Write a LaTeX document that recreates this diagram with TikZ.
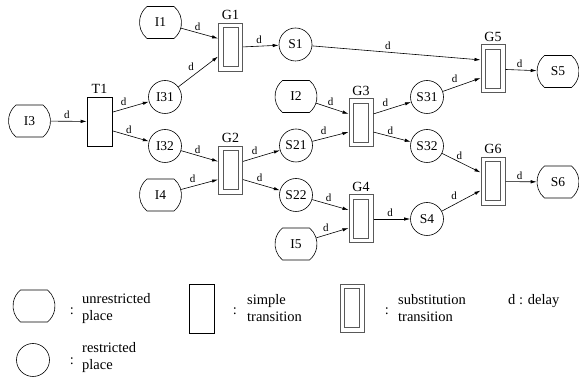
\documentclass[tikz,border=0pt]{standalone}
\usepackage{fontspec}
\setmainfont{Liberation Serif}
\usetikzlibrary{arrows.meta,shapes.misc}

\tikzset{
  uplace/.style={draw,line width=0.6pt,rounded rectangle,rounded rectangle arc length=100,
    minimum width=42pt,minimum height=32pt,inner sep=0pt,font=\fontsize{13.5}{15}\selectfont},
  rplace/.style={draw,line width=0.6pt,circle,minimum size=33pt,inner sep=0pt,font=\fontsize{13.5}{15}\selectfont},
  trans/.style={draw,line width=0.6pt,rectangle,minimum width=25pt,minimum height=49pt,inner sep=0pt},
  subst/.style={draw=black!65,line width=1pt,minimum width=24pt,minimum height=48pt,inner sep=0pt,
    path picture={\draw[black!65,line width=1pt]
      ([shift={(4.5pt,4.5pt)}]path picture bounding box.south west) rectangle
      ([shift={(-4.5pt,-4.5pt)}]path picture bounding box.north east);}},
  glab/.style={font=\fontsize{14}{16}\selectfont,inner sep=1pt,label distance=2pt},
  flow/.style={-{Latex[length=6pt,width=3.4pt]},line width=0.6pt},
  dl/.style={pos=0.45,font=\fontsize{11}{12}\selectfont,inner sep=2pt},
  keytext/.style={align=left,anchor=west,inner sep=0pt,font=\fontsize{14.5}{17}\selectfont},
  keycolon/.style={inner sep=0pt,font=\fontsize{14.5}{17}\selectfont}
}

\begin{document}
\begin{tikzpicture}[x=1pt,y=1pt]
  \useasboundingbox (0,0) rectangle (579,377);
  \foreach \n/\x/\y in {I3/29.5/256, I1/160.5/354.5, I4/160.5/182, I2/296/280.5,
                        I5/296/133, S5/558/305.5, S6/558/195}
    \node[uplace] (\n) at (\x,\y) {\n};
  \foreach \n/\x/\y in {I31/165/280, I32/165/231, S1/295.5/332.5, S21/296/231.5,
                        S22/296/182, S31/427/280, S32/427/231, S4/427/158}
    \node[rplace] (\n) at (\x,\y) {\n};
  \node[trans,label={[glab]above:T1}] (T1) at (99.5,255.5) {};
  \foreach \n/\x/\y in {G1/230.5/329.5, G2/230.5/206.5, G3/361/254,
                        G4/361/158, G5/493/308, G6/493/195.5}
    \node[subst,label={[glab]above:\n}] (\n) at (\x,\y) {};
  \foreach \a/\b/\w in {I3/T1/south, T1.36/I31/south east, T1.-36/I32/south,
      I1/G1.144/south, I31/G1.216/south east, G1/S1/south,
      I32/G2.144/south, I4/G2.216/south east, G2.36/S21/south east, G2.-36/S22/south,
      S1/G5.144/south, I2/G3.144/south, S21/G3.216/south east,
      G3.36/S31/south east, G3.-36/S32/south, S22/G4.144/south, I5/G4.216/south east,
      G4/S4/south, S31/G5.216/south east, S32/G6.144/south, S4/G6.216/south east,
      G5/S5/south, G6/S6/south}
    \draw[flow] (\a) -- node[dl,anchor=\w] {d} (\b);

  \node[uplace] (ku) at (34,71) {};
  \node[keycolon] (kuc) at (72,66) {:};
  \node[keytext] (kut) at (82,68.5) {unrestricted\\place};
  \node[trans] (kt) at (202,68.5) {};
  \node[keycolon] (ktc) at (235,66) {:};
  \node[keytext] (ktt) at (247,68.5) {simple\\transition};
  \node[subst] (ks) at (352,68.5) {};
  \node[keycolon] (ksc) at (387,66) {:};
  \node[keytext] (kst) at (398,68.5) {substitution\\transition};
  \node[keytext] (kd) at (508,76) {d : delay};
  \node[rplace] (kr) at (33,17) {};
  \node[keycolon] (krc) at (72,16) {:};
  \node[keytext] (krt) at (82,19) {restricted\\place};
\end{tikzpicture}
\end{document}
